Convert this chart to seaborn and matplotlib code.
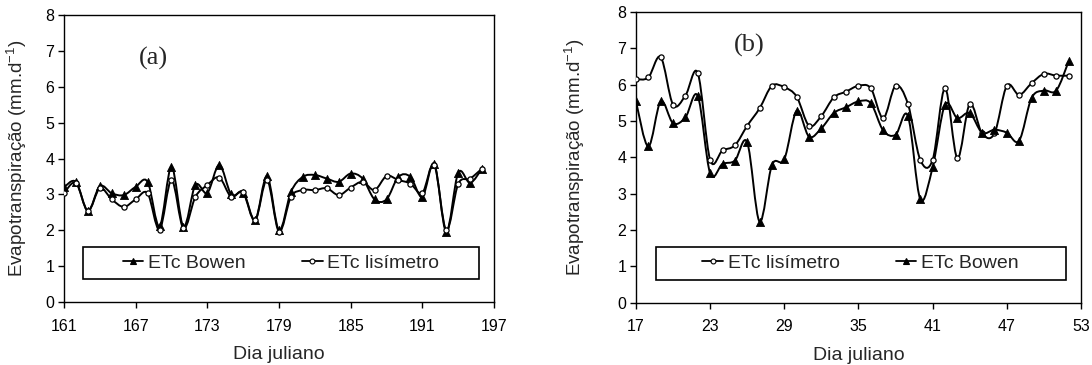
import numpy as np
import pandas as pd
import matplotlib
matplotlib.use("Agg")
import matplotlib.pyplot as plt
from matplotlib.path import Path
from matplotlib.patches import PathPatch, Rectangle
from matplotlib.lines import Line2D
import seaborn as sns

# ---- data -------------------------------------------------------------
days_a = list(range(161, 197))
bowen_a = [3.20, 3.35, 2.54, 3.23, 3.03, 2.98, 3.21, 3.35, 2.11, 3.77,
           2.10, 3.26, 3.04, 3.82, 3.00, 3.04, 2.28, 3.51, 2.00, 3.07,
           3.49, 3.54, 3.44, 3.35, 3.58, 3.44, 2.86, 2.86, 3.49, 3.49,
           2.93, 3.85, 1.96, 3.60, 3.32, 3.72]
lisim_a = [3.04, 3.32, 2.54, 3.17, 2.86, 2.65, 2.86, 3.03, 2.02, 3.40,
           2.05, 2.93, 3.26, 3.47, 2.93, 3.07, 2.28, 3.40, 1.96, 2.93,
           3.12, 3.12, 3.17, 2.98, 3.19, 3.35, 3.12, 3.51, 3.40, 3.30,
           3.04, 3.82, 2.00, 3.29, 3.44, 3.72]

days_b = list(range(17, 53))
lisim_b = [6.15, 6.20, 6.76, 5.45, 5.70, 6.32, 3.93, 4.19, 4.33, 4.87,
           5.35, 5.97, 5.93, 5.67, 4.87, 5.14, 5.65, 5.81, 5.97, 5.90,
           5.08, 5.97, 5.47, 3.93, 3.93, 5.90, 3.98, 5.47, 4.66, 4.66,
           5.97, 5.72, 6.04, 6.30, 6.25, 6.25]
bowen_b = [5.54, 4.30, 5.54, 4.94, 5.10, 5.69, 3.56, 3.82, 3.91, 4.41,
           2.23, 3.79, 3.95, 5.28, 4.57, 4.80, 5.22, 5.38, 5.54, 5.49,
           4.74, 4.62, 5.14, 2.85, 3.73, 5.45, 5.08, 5.22, 4.68, 4.76,
           4.68, 4.46, 5.63, 5.84, 5.84, 6.64]

xticks_a = [161, 167, 173, 179, 185, 191, 197]
xticks_b = [17, 23, 29, 35, 41, 47, 53]
yticks = list(range(0, 9))

LBL_BOWEN = "ETc Bowen"
LBL_LISIM = "ETc lisímetro"

# ---- style ------------------------------------------------------------
sns.set_theme(style="white")
plt.rcParams["font.family"] = ["Liberation Sans", "DejaVu Sans"]
plt.rcParams["mathtext.fontset"] = "custom"
plt.rcParams["mathtext.rm"] = "Liberation Sans"
plt.rcParams["mathtext.it"] = "Liberation Sans:italic"
plt.rcParams["axes.edgecolor"] = "black"
plt.rcParams["axes.linewidth"] = 1.0

STYLES = {
    LBL_BOWEN: dict(marker="^", s=34, facecolor="black", edgecolor="black", lw=0.6),
    LBL_LISIM: dict(marker="o", s=14, facecolor="white", edgecolor="black", lw=0.9),
}


def smooth_curve(ax, x, y, **kw):
    """Draw a smoothed (Catmull-Rom / Bezier) line through the points."""
    x = np.asarray(x, float)
    y = np.asarray(y, float)
    p = np.column_stack([x, y])
    n = len(p)
    verts = [p[0]]
    codes = [Path.MOVETO]
    for i in range(n - 1):
        p0 = p[i - 1] if i > 0 else p[i]
        p1 = p[i]
        p2 = p[i + 1]
        p3 = p[i + 2] if i + 2 < n else p[i + 1]
        c1 = p1 + (p2 - p0) / 6.0
        c2 = p2 - (p3 - p1) / 6.0
        verts += [c1, c2, p2]
        codes += [Path.CURVE4] * 3
    ax.add_patch(PathPatch(Path(verts, codes), fill=False, **kw))


def panel(ax, days, series, order, xticks, tag, tag_xy, ylab_x):
    for name in order:
        vals = series[name]
        smooth_curve(ax, days, vals, edgecolor="black", linewidth=1.4, zorder=2)
        df = pd.DataFrame({"dia": days, "et": vals})
        st = STYLES[name]
        sns.scatterplot(data=df, x="dia", y="et", ax=ax, marker=st["marker"],
                        s=st["s"], color=st["facecolor"], edgecolor=st["edgecolor"],
                        linewidth=st["lw"], zorder=3, legend=False)

    ax.set_xlim(xticks[0], xticks[-1])
    ax.set_ylim(0, 8)
    ax.set_xticks(xticks)
    ax.set_yticks(yticks)
    ax.tick_params(axis="both", direction="out", length=4, width=1.0,
                   colors="black", labelsize=11.5)
    ax.tick_params(axis="x", pad=8)
    ax.tick_params(axis="y", pad=3)
    ax.xaxis.set_ticks_position("bottom")
    ax.yaxis.set_ticks_position("left")
    for sp in ax.spines.values():
        sp.set_visible(True)
        sp.set_color("black")
    ax.set_xlabel("Dia juliano", fontsize=14, labelpad=9)
    ax.set_ylabel(r"Evapotranspiração (mm.d$^{\mathrm{-1}}$)", fontsize=13.5)
    ax.yaxis.set_label_coords(ylab_x, 0.5)
    ax.text(tag_xy[0], tag_xy[1], tag, transform=ax.transAxes, ha="center",
            va="center", fontsize=19, family="Liberation Serif")

    # legend box drawn as a plain rectangle; entries placed inside it
    ax.add_patch(Rectangle((0.044, 0.079), 0.922, 0.113, transform=ax.transAxes,
                           fill=True, facecolor="white", edgecolor="black",
                           linewidth=1.2, zorder=4))
    handles = []
    for name in order:
        st = STYLES[name]
        handles.append(Line2D([0], [0], color="black", lw=1.3, marker=st["marker"],
                              markersize=4.5 if st["marker"] == "^" else 3.5,
                              markerfacecolor=st["facecolor"],
                              markeredgecolor="black", markeredgewidth=0.8))
    leg = ax.legend(handles, order, loc="center", bbox_to_anchor=(0.505, 0.135),
                    ncol=2, frameon=False, fontsize=14, handlelength=1.05,
                    handletextpad=0.25, columnspacing=2.9, borderpad=0.2)
    leg.set_zorder(5)


fig = plt.figure(figsize=(10.92, 3.65), dpi=100)
ax_a = fig.add_axes([0.0586, 0.1726, 0.3938, 0.7863])
ax_b = fig.add_axes([0.5824, 0.1707, 0.4075, 0.7963])

panel(ax_a, days_a, {LBL_BOWEN: bowen_a, LBL_LISIM: lisim_a},
      [LBL_BOWEN, LBL_LISIM], xticks_a, "(a)", (0.207, 0.85), -0.081)
panel(ax_b, days_b, {LBL_LISIM: lisim_b, LBL_BOWEN: bowen_b},
      [LBL_LISIM, LBL_BOWEN], xticks_b, "(b)", (0.255, 0.885), -0.110)

fig.savefig("out.png", dpi=100)
